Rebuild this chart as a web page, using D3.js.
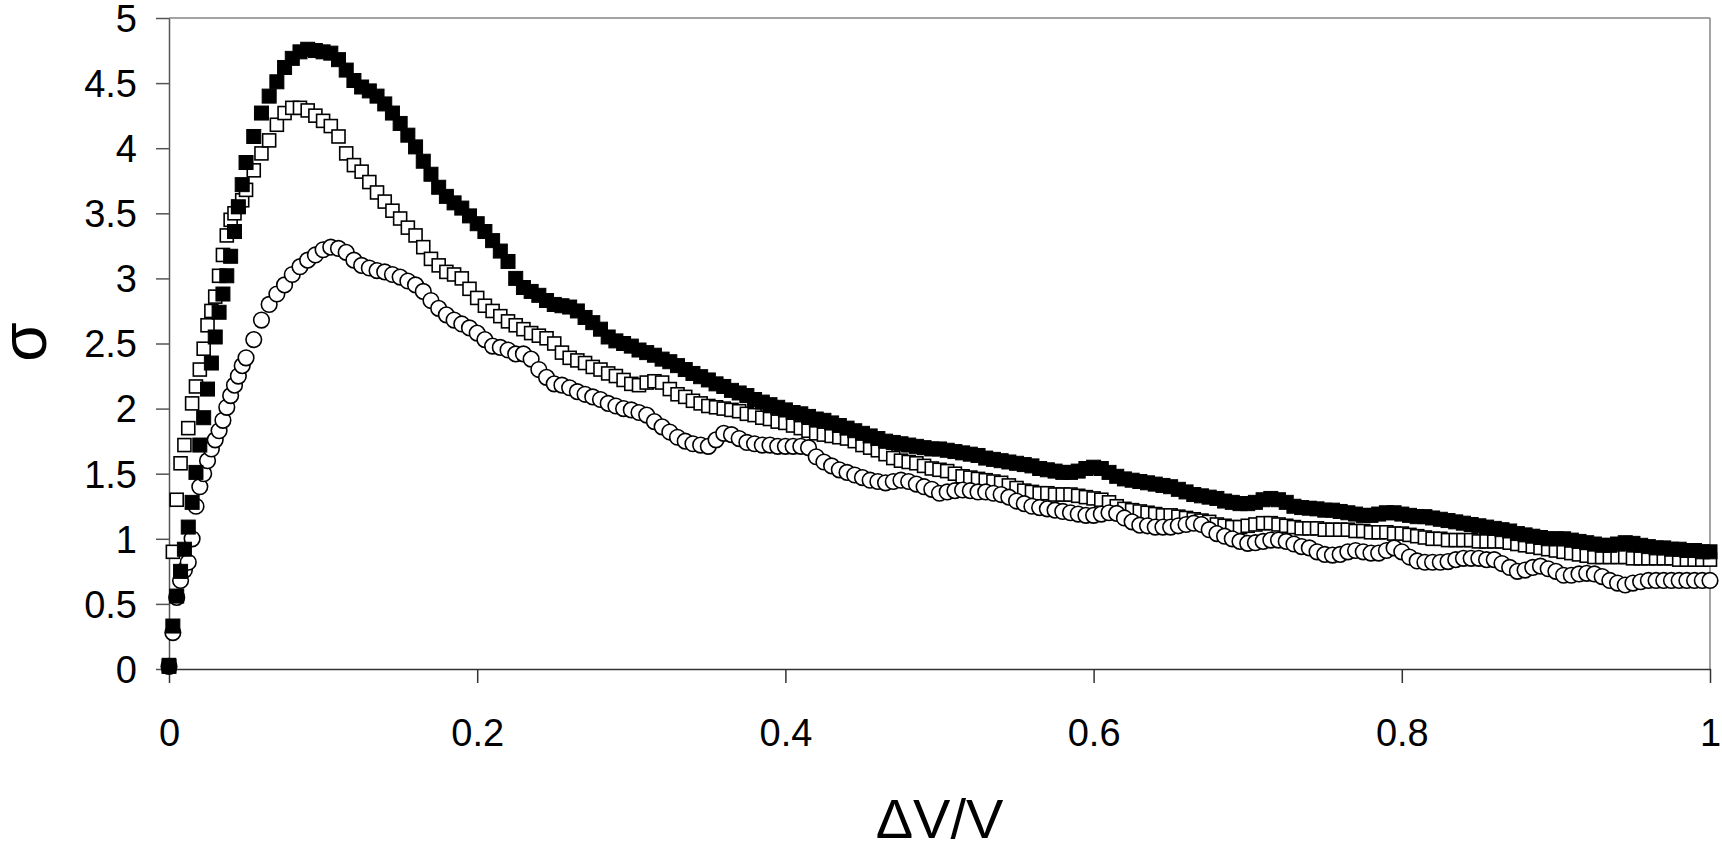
<!DOCTYPE html>
<html>
<head>
<meta charset="utf-8">
<script src="https://cdn.jsdelivr.net/npm/d3@7"></script>
<style>
  html, body { margin: 0; padding: 0; background: #fff; }
  svg { display: block; }
  text { font-family: "Liberation Sans", Arial, Helvetica, sans-serif; fill: #000; }
</style>
</head>
<body>
<svg id="chart" width="1722" height="849"></svg>
<script>
// ---- data ----
const dv = [
  0,0.0025,0.005,0.0075,0.01,0.0125,0.015,0.0175,0.02,0.0225,0.025,0.0275,0.03,0.0325,0.035,0.0375,0.04,0.0425,0.045,0.0475,0.05,
  0.055,0.06,0.065,0.07,0.075,0.08,0.085,0.09,0.095,0.1,
  0.105,0.11,0.115,0.12,0.125,0.13,0.135,0.14,0.145,0.15,
  0.155,0.16,0.165,0.17,0.175,0.18,0.185,0.19,0.195,0.2,
  0.205,0.21,0.215,0.22,0.225,0.23,0.235,0.24,0.245,0.25,
  0.255,0.26,0.265,0.27,0.275,0.28,0.285,0.29,0.295,0.3,
  0.305,0.31,0.315,0.32,0.325,0.33,0.335,0.34,0.345,0.35,
  0.355,0.36,0.365,0.37,0.375,0.38,0.385,0.39,0.395,0.4,
  0.405,0.41,0.415,0.42,0.425,0.43,0.435,0.44,0.445,0.45,
  0.455,0.46,0.465,0.47,0.475,0.48,0.485,0.49,0.495,0.5,
  0.505,0.51,0.515,0.52,0.525,0.53,0.535,0.54,0.545,0.55,
  0.555,0.56,0.565,0.57,0.575,0.58,0.585,0.59,0.595,0.6,
  0.605,0.61,0.615,0.62,0.625,0.63,0.635,0.64,0.645,0.65,
  0.655,0.66,0.665,0.67,0.675,0.68,0.685,0.69,0.695,0.7,
  0.705,0.71,0.715,0.72,0.725,0.73,0.735,0.74,0.745,0.75,
  0.755,0.76,0.765,0.77,0.775,0.78,0.785,0.79,0.795,0.8,
  0.805,0.81,0.815,0.82,0.825,0.83,0.835,0.84,0.845,0.85,
  0.855,0.86,0.865,0.87,0.875,0.88,0.885,0.89,0.895,0.9,
  0.905,0.91,0.915,0.92,0.925,0.93,0.935,0.94,0.945,0.95,
  0.955,0.96,0.965,0.97,0.975,0.98,0.985,0.99,0.995,1.0
];

// filled squares
const sigmaFilled = [
  0.02,0.33,0.56,0.75,0.92,1.09,1.28,1.51,1.72,1.93,2.15,2.35,2.55,2.74,2.88,3.02,3.17,3.36,3.55,3.72,3.89,
  4.09,4.27,4.40,4.51,4.62,4.69,4.74,4.76,4.75,4.74,
  4.73,4.68,4.60,4.52,4.47,4.44,4.40,4.34,4.27,4.19,
  4.10,4.01,3.90,3.80,3.70,3.63,3.58,3.54,3.48,3.42,
  3.36,3.29,3.21,3.13,3.00,2.93,2.90,2.87,2.83,2.80,
  2.79,2.78,2.75,2.70,2.66,2.61,2.55,2.52,2.50,2.48,
  2.45,2.43,2.41,2.38,2.36,2.33,2.30,2.27,2.245,2.22,
  2.19,2.17,2.14,2.12,2.10,2.07,2.05,2.03,2.01,1.99,
  1.97,1.96,1.94,1.92,1.91,1.89,1.87,1.85,1.83,1.81,
  1.79,1.77,1.75,1.74,1.73,1.72,1.71,1.70,1.69,1.69,
  1.68,1.67,1.66,1.65,1.64,1.62,1.61,1.60,1.59,1.58,
  1.57,1.56,1.54,1.53,1.52,1.51,1.51,1.52,1.54,1.55,
  1.54,1.51,1.48,1.46,1.45,1.44,1.43,1.42,1.41,1.40,
  1.38,1.36,1.34,1.33,1.32,1.31,1.29,1.28,1.27,1.27,
  1.28,1.30,1.31,1.30,1.28,1.25,1.24,1.235,1.23,1.22,
  1.22,1.21,1.20,1.19,1.18,1.18,1.19,1.20,1.20,1.19,
  1.18,1.17,1.17,1.16,1.15,1.14,1.13,1.12,1.11,1.10,
  1.09,1.08,1.07,1.06,1.04,1.03,1.02,1.01,1.00,1.00,
  1.00,0.99,0.98,0.97,0.96,0.95,0.95,0.96,0.97,0.965,
  0.95,0.94,0.93,0.93,0.92,0.92,0.91,0.91,0.90,0.90
];

// open squares
const sigmaOpenSq = [
  0.03,0.90,1.30,1.58,1.72,1.85,2.04,2.17,2.30,2.46,2.64,2.75,2.86,3.02,3.18,3.33,3.45,3.50,3.55,3.60,3.68,
  3.83,3.96,4.06,4.18,4.27,4.31,4.31,4.29,4.25,4.21,
  4.17,4.09,3.96,3.87,3.82,3.74,3.66,3.59,3.52,3.46,
  3.39,3.33,3.24,3.15,3.10,3.05,3.03,3.00,2.92,2.85,
  2.79,2.75,2.71,2.67,2.64,2.61,2.58,2.56,2.54,2.50,
  2.43,2.39,2.37,2.35,2.32,2.30,2.27,2.25,2.22,2.19,
  2.18,2.20,2.21,2.20,2.15,2.11,2.09,2.06,2.04,2.02,
  2.01,2.00,1.99,1.98,1.96,1.95,1.93,1.92,1.90,1.89,
  1.87,1.85,1.83,1.81,1.80,1.79,1.78,1.77,1.75,1.72,
  1.70,1.68,1.65,1.62,1.60,1.59,1.58,1.56,1.54,1.53,
  1.52,1.50,1.48,1.47,1.46,1.45,1.44,1.43,1.41,1.39,
  1.37,1.36,1.35,1.35,1.34,1.34,1.34,1.33,1.32,1.31,
  1.30,1.28,1.25,1.23,1.22,1.21,1.20,1.19,1.18,1.18,
  1.17,1.16,1.15,1.14,1.13,1.11,1.10,1.09,1.09,1.10,
  1.11,1.12,1.12,1.11,1.10,1.09,1.08,1.08,1.08,1.07,
  1.07,1.07,1.07,1.06,1.06,1.05,1.05,1.05,1.04,1.04,
  1.03,1.02,1.01,1.00,1.00,0.99,0.99,0.99,0.99,0.98,
  0.98,0.98,0.98,0.97,0.96,0.95,0.94,0.93,0.92,0.91,
  0.90,0.89,0.88,0.87,0.86,0.86,0.86,0.86,0.86,0.85,
  0.85,0.85,0.85,0.85,0.85,0.84,0.84,0.84,0.84,0.84
];

// open circles
const sigmaCircle = [
  0.02,0.28,0.55,0.68,0.76,0.82,1.00,1.25,1.40,1.50,1.60,1.69,1.76,1.83,1.91,2.01,2.10,2.18,2.25,2.33,2.39,
  2.53,2.68,2.80,2.88,2.95,3.03,3.09,3.14,3.18,3.22,
  3.24,3.23,3.20,3.14,3.10,3.08,3.06,3.05,3.03,3.01,
  2.98,2.95,2.90,2.83,2.77,2.72,2.68,2.65,2.62,2.58,
  2.53,2.48,2.47,2.45,2.42,2.42,2.38,2.30,2.24,2.19,
  2.18,2.16,2.13,2.11,2.09,2.07,2.04,2.02,2.00,1.99,
  1.97,1.95,1.90,1.86,1.82,1.78,1.75,1.73,1.72,1.71,
  1.76,1.81,1.80,1.77,1.74,1.73,1.72,1.72,1.71,1.71,
  1.71,1.71,1.70,1.63,1.59,1.56,1.53,1.51,1.49,1.47,
  1.45,1.44,1.43,1.44,1.45,1.44,1.42,1.40,1.38,1.35,
  1.36,1.37,1.375,1.37,1.36,1.36,1.35,1.34,1.32,1.29,
  1.27,1.25,1.24,1.23,1.22,1.21,1.20,1.19,1.18,1.18,
  1.19,1.20,1.195,1.16,1.13,1.105,1.10,1.09,1.09,1.09,
  1.10,1.11,1.12,1.11,1.07,1.04,1.02,1.00,0.98,0.965,
  0.97,0.98,0.99,0.99,0.98,0.96,0.94,0.93,0.90,0.88,
  0.875,0.88,0.90,0.91,0.90,0.89,0.89,0.91,0.93,0.90,
  0.86,0.83,0.82,0.82,0.82,0.825,0.84,0.85,0.85,0.85,
  0.84,0.84,0.81,0.78,0.75,0.76,0.78,0.79,0.77,0.75,
  0.72,0.72,0.73,0.735,0.73,0.71,0.68,0.66,0.645,0.66,
  0.67,0.68,0.68,0.68,0.68,0.68,0.68,0.68,0.68,0.68
];

const xTicks = [0, 0.2, 0.4, 0.6, 0.8, 1];
const yTicks = [0, 0.5, 1, 1.5, 2, 2.5, 3, 3.5, 4, 4.5, 5];
const xTitle = "\u0394V/V";
const yTitle = "\u03C3";

// ---- layout ----
const svg = d3.select("#chart");
const plotL = 169, plotR = 1710, plotT = 18, plotB = 669;

const x = d3.scaleLinear().domain([0, 1]).range([plotL, plotR]);
const y = d3.scaleLinear().domain([0, 5]).range([plotB, plotT]);

// plot frame (top and right, light gray)
svg.append("line").attr("x1", plotL).attr("x2", plotR).attr("y1", plotT).attr("y2", plotT)
  .attr("stroke", "#858585").attr("stroke-width", 1.5);
svg.append("line").attr("x1", plotR).attr("x2", plotR).attr("y1", plotT).attr("y2", plotB)
  .attr("stroke", "#858585").attr("stroke-width", 1.5);

// y axis
const yAxis = svg.append("g").attr("transform", `translate(${plotL},0)`)
  .call(d3.axisLeft(y).tickValues(yTicks).tickSize(13).tickSizeOuter(0).tickPadding(19)
    .tickFormat(d3.format("~g")));
yAxis.select(".domain").attr("stroke", "#555").attr("stroke-width", 1.5);
yAxis.selectAll(".tick line").attr("stroke", "#555").attr("stroke-width", 1.5);
yAxis.selectAll(".tick text").attr("font-size", 38).attr("dy", "0.35em")
  .style("font-family", "'Liberation Sans', Arial, sans-serif");

// x axis
const xAxis = svg.append("g").attr("transform", `translate(0,${plotB})`)
  .call(d3.axisBottom(x).tickValues(xTicks).tickSize(14).tickSizeOuter(0).tickPadding(36)
    .tickFormat(d3.format("~g")));
xAxis.select(".domain").attr("stroke", "#333").attr("stroke-width", 1.5);
xAxis.selectAll(".tick line").attr("stroke", "#333").attr("stroke-width", 1.5);
xAxis.selectAll(".tick text").attr("font-size", 38)
  .style("font-family", "'Liberation Sans', Arial, sans-serif");

// axis titles
svg.append("text").attr("x", (plotL + plotR) / 2).attr("y", 838)
  .attr("text-anchor", "middle").attr("font-size", 56).text(xTitle);
svg.append("text").attr("transform", "translate(46,342) rotate(-90)")
  .attr("text-anchor", "middle").attr("font-size", 64).text(yTitle);

// ---- series ----
const pts = (arr) => dv.map((d, i) => ({ x: d, y: arr[i] }));

const sq = 13;
svg.append("g").selectAll("rect").data(pts(sigmaOpenSq)).join("rect")
  .attr("x", d => x(d.x) - sq / 2).attr("y", d => y(d.y) - sq / 2)
  .attr("width", sq).attr("height", sq)
  .attr("fill", "#fff").attr("stroke", "#000").attr("stroke-width", 1.6);

svg.append("g").selectAll("circle").data(pts(sigmaCircle)).join("circle")
  .attr("cx", d => x(d.x)).attr("cy", d => y(d.y)).attr("r", 7.8)
  .attr("fill", "#fff").attr("stroke", "#000").attr("stroke-width", 1.6);

const fq = 14;
svg.append("g").selectAll("rect").data(pts(sigmaFilled)).join("rect")
  .attr("x", d => x(d.x) - fq / 2).attr("y", d => y(d.y) - fq / 2)
  .attr("width", fq).attr("height", fq)
  .attr("fill", "#000").attr("stroke", "#000").attr("stroke-width", 1);
</script>
</body>
</html>
